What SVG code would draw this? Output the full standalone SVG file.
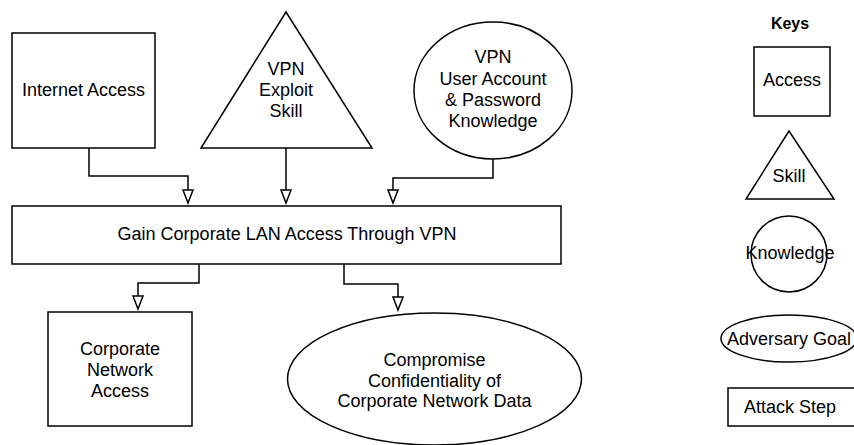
<svg xmlns="http://www.w3.org/2000/svg" width="854" height="445" viewBox="0 0 854 445">
<style>
.s{fill:#fff;stroke:#000;stroke-width:1.5}
.t{font-family:"Liberation Sans",Arial,sans-serif;font-size:18px;fill:#000;text-anchor:middle}
.c{fill:none;stroke:#000;stroke-width:1.5}
</style>
<defs>
<marker id="ah" markerUnits="userSpaceOnUse" markerWidth="16" markerHeight="12" viewBox="0 -6 16 12" refX="14" refY="0" orient="auto">
<path d="M1,-5 L14,0 L1,5 Z" fill="#fff" stroke="#000" stroke-width="1.5"/>
</marker>
</defs>
<rect width="854" height="445" fill="#fff"/>
<g id="connectors">
<path class="c" d="M89,148 V176 H188 V203" marker-end="url(#ah)"/>
<path class="c" d="M286,148 V203" marker-end="url(#ah)"/>
<path class="c" d="M493,159 V178 H393 V203" marker-end="url(#ah)"/>
<path class="c" d="M199,264 V283 H138 V309" marker-end="url(#ah)"/>
<path class="c" d="M344,264 V284 H398 V310" marker-end="url(#ah)"/>
</g>
<g id="internet-access">
<rect class="s" x="12" y="33" width="143" height="115"/>
<text class="t" x="83.5" y="96">Internet Access</text>
</g>
<g id="vpn-exploit-skill">
<polygon class="s" points="286,12 372,148 201,148"/>
<text class="t" x="286" y="75">VPN</text>
<text class="t" x="286" y="96">Exploit</text>
<text class="t" x="286" y="117">Skill</text>
</g>
<g id="vpn-knowledge">
<ellipse class="s" cx="493" cy="90.5" rx="79" ry="68.5"/>
<text class="t" x="493" y="63">VPN</text>
<text class="t" x="493" y="85">User Account</text>
<text class="t" x="493" y="106">&amp; Password</text>
<text class="t" x="493" y="127">Knowledge</text>
</g>
<g id="gain-lan-access">
<rect class="s" x="12" y="206" width="549" height="58"/>
<text class="t" x="287" y="240">Gain Corporate LAN Access Through VPN</text>
</g>
<g id="corporate-network-access">
<rect class="s" x="48" y="312" width="144" height="114"/>
<text class="t" x="120" y="355">Corporate</text>
<text class="t" x="120" y="376">Network</text>
<text class="t" x="120" y="397">Access</text>
</g>
<g id="compromise-confidentiality">
<ellipse class="s" cx="434.5" cy="379" rx="147" ry="66"/>
<text class="t" x="434.5" y="366">Compromise</text>
<text class="t" x="434.5" y="387">Confidentiality of</text>
<text class="t" x="434.5" y="407">Corporate Network Data</text>
</g>
<g id="keys">
<text class="t" x="790" y="29" style="font-weight:bold;font-size:16px">Keys</text>
<g id="key-access">
<rect class="s" x="754" y="47" width="76" height="69"/>
<text class="t" x="792" y="86">Access</text>
</g>
<g id="key-skill">
<polygon class="s" points="789,131 834,199 746,199"/>
<text class="t" x="789" y="182">Skill</text>
</g>
<g id="key-knowledge">
<circle class="s" cx="789" cy="254" r="38"/>
<text class="t" x="790" y="259">Knowledge</text>
</g>
<g id="key-goal">
<ellipse class="s" cx="789" cy="338.5" rx="68" ry="23.5"/>
<text class="t" x="789" y="345">Adversary Goal</text>
</g>
<g id="key-attack-step">
<rect class="s" x="728" y="388" width="130" height="38"/>
<text class="t" x="790" y="413">Attack Step</text>
</g>
</g>
</svg>
